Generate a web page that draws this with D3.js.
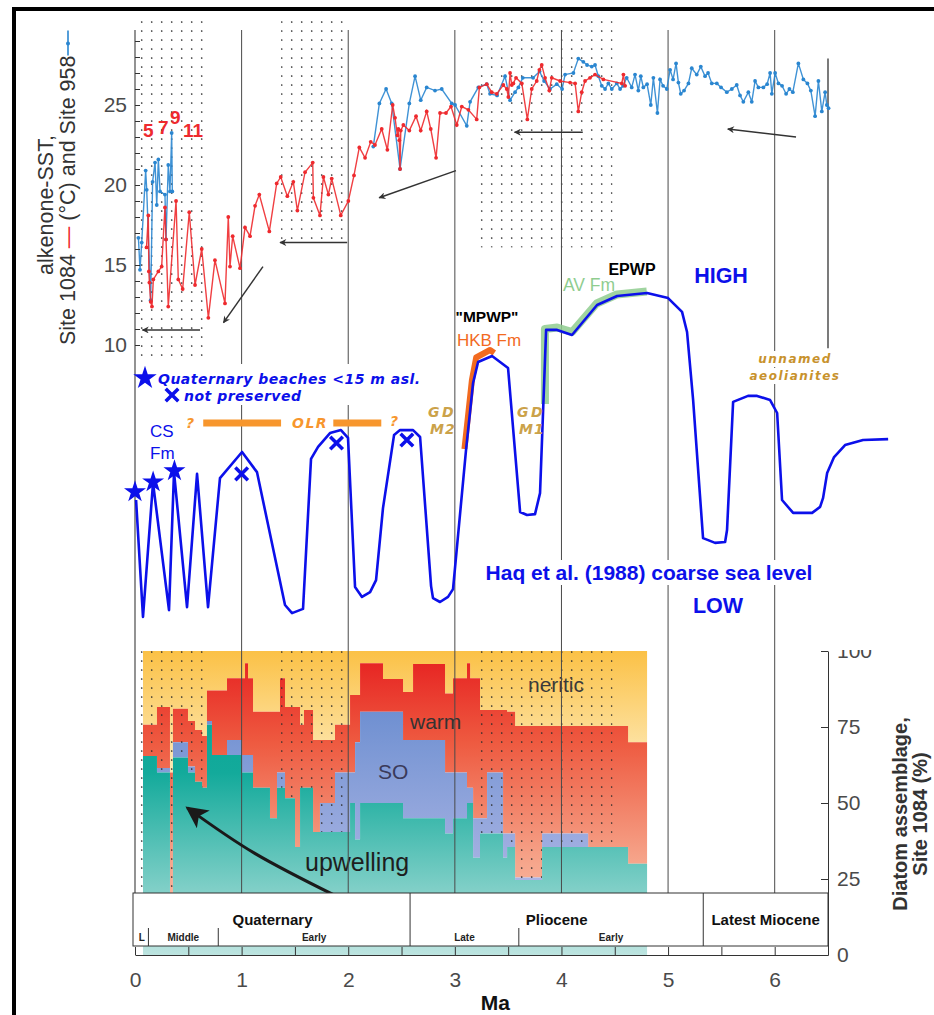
<!DOCTYPE html>
<html><head><meta charset="utf-8">
<script src="https://cdn.jsdelivr.net/npm/d3@7"></script>
<style>body{margin:0;background:#fff}</style>
</head><body>
<svg id="c" width="934" height="1015"></svg>
<script>
// ---------------- DATA ----------------
const site1084 = [[0.108,16.1],[0.125,18.1],[0.130,14.6],[0.135,13.9],[0.147,12.7],[0.159,12.4],[0.172,14.1],[0.219,14.6],[0.250,14.9],[0.281,18.6],[0.291,16.6],[0.312,12.4],[0.385,19.0],[0.406,14.1],[0.447,13.5],[0.509,18.3],[0.563,13.75],[0.626,16.0],[0.688,11.7],[0.750,15.3],[0.844,12.6],[0.875,18.0],[0.891,14.9],[0.916,16.8],[0.985,14.8],[1.032,17.35],[1.079,16.8],[1.126,18.7],[1.166,19.4],[1.260,17.1],[1.329,20.1],[1.367,20.5],[1.429,19.3],[1.485,20.2],[1.523,18.4],[1.595,20.8],[1.667,21.4],[1.673,19.2],[1.735,18.1],[1.767,20.5],[1.814,19.4],[1.845,20.4],[1.930,18.1],[2.001,19.0],[2.054,20.6],[2.104,22.35],[2.158,21.7],[2.211,22.7],[2.251,22.5],[2.314,23.5],[2.367,22.2],[2.417,25.0],[2.439,24.2],[2.461,23.1],[2.470,23.5],[2.479,22.8],[2.486,21.0],[2.493,23.4],[2.517,23.75],[2.573,23.4],[2.636,24.3],[2.680,23.4],[2.736,24.6],[2.774,23.5],[2.824,21.7],[2.861,24.5],[2.917,24.5],[2.964,24.9],[3.018,23.75],[3.065,24.9],[3.127,24.7],[3.205,24.1],[3.230,26.1],[3.299,26.3],[3.346,25.8],[3.393,25.7],[3.455,26.25],[3.487,26.0],[3.502,25.5],[3.518,27.0],[3.534,26.25],[3.549,26.35],[3.574,26.7],[3.628,26.35],[3.680,24.1],[3.721,26.0],[3.768,26.5],[3.793,27.2],[3.815,27.5],[3.846,26.7],[3.886,25.9],[3.909,26.7],[3.987,26.5],[4.081,26.4],[4.128,26.35],[4.158,24.6],[4.190,25.8],[4.221,26.5],[4.268,26.7],[4.315,26.9],[4.393,26.6],[4.566,26.35],[4.581,26.9],[4.597,26.2]];
const site958Early = [[0.032,16.7],[0.047,14.7],[0.063,16.4],[0.100,20.9],[0.110,19.7],[0.147,12.8],[0.165,20.2],[0.188,21.4],[0.204,18.75],[0.219,21.6],[0.235,19.6],[0.281,19.4],[0.291,16.6],[0.312,21.25],[0.328,19.6],[0.344,23.25],[0.350,19.6]];
const site958 = [[2.235,22.4],[2.292,25.1],[2.355,26.0],[2.408,25.1],[2.486,21.0],[2.573,25.1],[2.627,26.8],[2.680,25.3],[2.736,26.1],[2.814,25.9],[2.877,26.0],[2.971,25.1],[3.002,25.0],[3.112,23.7],[3.143,25.2],[3.220,26.1],[3.299,26.3],[3.330,25.7],[3.396,25.6],[3.471,26.8],[3.518,25.3],[3.565,25.8],[3.596,26.1],[3.637,26.7],[3.734,26.7],[3.795,27.1],[3.837,26.5],[3.893,26.0],[3.956,26.3],[4.006,26.0],[4.034,26.9],[4.112,27.0],[4.158,27.9],[4.205,27.7],[4.240,27.5],[4.284,27.4],[4.315,27.5],[4.346,26.8],[4.378,26.2],[4.409,26.0],[4.440,26.35],[4.472,26.0],[4.519,26.35],[4.550,26.0],[4.578,26.2],[4.612,26.7],[4.659,26.1],[4.690,26.9],[4.721,25.9],[4.744,26.8],[4.768,26.1],[4.803,26.3],[4.838,25.0],[4.862,26.7],[4.900,24.5],[4.925,26.6],[4.953,26.2],[4.988,26.0],[5.019,27.2],[5.047,26.6],[5.075,27.6],[5.097,26.4],[5.119,25.7],[5.150,25.9],[5.191,26.35],[5.222,27.3],[5.269,26.9],[5.307,27.4],[5.347,26.8],[5.375,27.0],[5.410,26.35],[5.457,26.35],[5.497,26.1],[5.551,25.8],[5.598,26.0],[5.644,26.25],[5.675,25.6],[5.706,25.2],[5.753,25.8],[5.785,25.2],[5.816,26.5],[5.847,26.1],[5.894,26.1],[5.929,26.3],[5.957,27.0],[5.973,25.7],[6.004,27.0],[6.035,26.35],[6.069,26.2],[6.107,25.7],[6.138,26.0],[6.170,25.8],[6.222,27.6],[6.269,26.6],[6.307,26.35],[6.339,25.9],[6.379,24.3],[6.410,26.5],[6.442,24.6],[6.473,25.8],[6.489,25.0],[6.505,24.8]];

// Haq et al. (1988) coarse sea level, relative units (0 = LOW, 110 = HIGH)
const seaLevelCurve = [[0.01,40],[0.075,1],[0.169,45.7],[0.319,3.3],[0.366,49.3],[0.488,4.3],[0.582,48.7],[0.685,4.3],[0.797,47.3],[1.004,56],[1.144,49.3],[1.407,5],[1.473,2.3],[1.576,3.7],[1.651,53.7],[1.717,57.7],[1.829,62.3],[1.932,63.3],[1.998,60.7],[2.064,11],[2.129,7.7],[2.205,9.3],[2.261,13.3],[2.326,37.3],[2.430,61.7],[2.486,63.3],[2.608,63.3],[2.674,61],[2.777,11.3],[2.795,7.3],[2.861,6],[2.936,7.7],[2.983,10.3],[3.105,56.7],[3.171,79],[3.218,86],[3.349,88],[3.499,84],[3.612,36],[3.677,35],[3.752,35.3],[3.799,42.3],[3.856,96.7],[3.959,96.7],[4.099,95],[4.334,105],[4.522,108],[4.803,109],[5.0,107.3],[5.131,102.7],[5.178,96],[5.235,73.3],[5.328,27.3],[5.441,25.7],[5.535,26],[5.553,30],[5.61,72.7],[5.75,74.7],[5.835,74.7],[5.957,73.3],[6.023,69],[6.069,40],[6.173,35.7],[6.351,35.7],[6.426,37.7],[6.454,40.7],[6.492,49],[6.557,54.3],[6.66,58.3],[6.829,60],[7.064,60.3]];
const hkbFm = [[3.09,57],[3.16,80],[3.20,87.5],[3.33,90],[3.37,89]];
const avFm = [[3.845,72],[3.845,97],[3.96,97.5],[4.10,96],[4.33,105.5],[4.52,108.5],[4.80,109.5]];
const beachAge = [0.0, 0.17, 0.37];
const beachLevel = [42.7, 46, 49.7];
const lostAge = [1.0, 1.89, 2.55];
const lostLevel = [48.7, 59, 60];
const olrBars = [[0.64,1.37],[1.86,2.31]];
const olrLevel = 65.7;

// Diatom assemblage Site 1084 (%), step intervals starting at diatomAge
const diatomAge = [0.075,0.206,0.328,0.356,0.497,0.563,0.629,0.675,0.722,0.863,1.004,1.032,1.060,1.107,1.266,1.332,1.360,1.407,1.501,1.548,1.585,1.670,1.735,1.876,2.017,2.064,2.111,2.326,2.514,2.608,2.908,2.983,3.114,3.143,3.171,3.236,3.302,3.452,3.490,3.565,3.818,4.250,4.625];
const upwelling = [65.5,60,12,65,60,57,55,75.7,65.8,65.8,60,60,60,55,45,55,55,51.6,35.5,55,55,40.5,40.5,40.5,50,38,50,50,45,45,40,45,50,50,32,40,40,32,35.5,24.7,35.5,35.5,30];
const southernOcean = [0,1.5,0,5,2,0,0,1.3,0,4.9,5.8,5.8,5.8,0,0,5,5,0,0,0,0,0,9.5,19.5,10,32,30,30,25.7,25.7,20,15,5,5,13,5,20,8,4.5,0.8,4.5,0,0];
const warm = [10.2,20.1,48,11,15,17,17,10,21.2,20.3,25.2,30.2,25.2,25,35,20,31,30,46.1,20.7,25.6,30.2,20.7,15.7,25.5,15.5,16,10.8,15.8,25,26,31,41,36,46,35.6,20.6,40.6,40,49.8,35.3,39.8,40];
const neritic = [24.3,18.4,40,19,23,26,28,13,13,9,9,4,9,20,20,20,9,18.4,18.4,24.3,19.4,29.3,29.3,24.3,14.5,14.5,4,9.2,13.5,4.3,14,9,4,9,9,19.4,19.4,19.4,20,24.7,24.7,24.7,30];
const diatomEnd = 4.803;

const stippleRanges = [[0.02,0.64],[1.37,1.99],[3.19,4.48]];
const stippleSSTLow = [9.3,16.2,16.1];
const sstArrows = [[[0.61,10.94],[0.07,10.94]],[[1.20,14.9],[0.83,11.4]],[[1.99,16.4],[1.36,16.4]],[[3.01,20.9],[2.29,19.2]],[[4.20,23.3],[3.56,23.3]],[[6.20,23.0],[5.56,23.5]]];
const upwellingArrow = [[1.88,19.5],[1.12,33.5],[0.49,48.4]];

const sstTicks = [10,15,20,25];
const sstMinor = d3.range(10,30);
const maTicks = d3.range(0,6.51,0.5);
const diatomTicks = [0,25,50,75,100];
const gridAges = [0,1,2,3,4,5,6];
const epochs = [["Quaternary",0,2.58],["Pliocene",2.58,5.33],["Latest Miocene",5.33,6.5]];
const subEpochs = [["L",0,0.126],["Middle",0.126,0.781],["Early",0.781,2.58],["Late",2.58,3.6],["Early",3.6,5.33]];

// ---------------- SETUP ----------------
const FONT = "Liberation Sans, Arial, Helvetica, sans-serif";
const WIDE = "DejaVu Sans, Verdana, sans-serif";
const BLUE = "#0c10ea";
const svg = d3.select("#c");
const defs = svg.append("defs");

const x = d3.scaleLinear().domain([0,6.5]).range([135,828]);
const ySST = d3.scaleLinear().domain([10,25]).range([345,105]);
const ySL = d3.scaleLinear().domain([0,110]).range([620,290]);
const yD = d3.scaleLinear().domain([0,100]).range([955,651]);
const GRID_TOP = 30, BOX_TOP = 893, BOX_BOT = 946;

function txt(px, py, s, o = {}) {
  const t = svg.append("text").attr("x", px).attr("y", py).text(s)
    .attr("font-family", o.family || FONT).attr("font-size", o.size || 16)
    .attr("font-weight", o.weight || "normal").attr("fill", o.fill || "#000");
  if (o.style) t.attr("font-style", o.style);
  if (o.anchor) t.attr("text-anchor", o.anchor);
  if (o.ls != null) t.attr("letter-spacing", o.ls);
  return t;
}
function whiteBehind(t, padx = 3, pady = 2) {
  const b = t.node().getBBox();
  svg.insert("rect", () => t.node()).attr("x", b.x - padx).attr("y", b.y - pady)
    .attr("width", b.width + 2 * padx).attr("height", b.height + 2 * pady).attr("fill", "#fff");
}

// patterns / gradients
const pat = defs.append("pattern").attr("id", "dots").attr("patternUnits", "userSpaceOnUse")
  .attr("width", 10).attr("height", 9);
pat.append("circle").attr("cx", 1.7).attr("cy", 4).attr("r", 0.85).attr("fill", "#2a2a2a");

function grad(id, stops) {
  const g = defs.append("linearGradient").attr("id", id).attr("gradientUnits", "userSpaceOnUse")
    .attr("x1", 0).attr("x2", 0).attr("y1", yD(100)).attr("y2", yD(0));
  stops.forEach(s => g.append("stop").attr("offset", s[0]).attr("stop-color", s[1]));
}
grad("gNer", [[0, "#fbc146"], [0.35, "#fde6ad"], [1, "#fff6dc"]]);
grad("gWarm", [[0, "#e61e1f"], [0.3, "#ee5a40"], [0.7, "#f6a68c"], [1, "#fbcab8"]]);
grad("gSO", [[0, "#5a82cb"], [0.35, "#7f9ad6"], [1, "#c4c4ec"]]);
grad("gUp", [[0, "#00a493"], [0.4, "#13aa9b"], [1, "#bde4e0"]]);

const mk = defs.append("marker").attr("id", "ah").attr("viewBox", "0 0 10 10").attr("refX", 9).attr("refY", 5)
  .attr("markerWidth", 10).attr("markerHeight", 7).attr("markerUnits", "userSpaceOnUse").attr("orient", "auto");
mk.append("path").attr("d", "M0,0 L10,5 L0,10 L3,5 Z").attr("fill", "#333");
const mk2 = defs.append("marker").attr("id", "ahBig").attr("viewBox", "0 0 10 10").attr("refX", 9).attr("refY", 5)
  .attr("markerWidth", 26).attr("markerHeight", 22).attr("markerUnits", "userSpaceOnUse").attr("orient", "auto");
mk2.append("path").attr("d", "M0,0 L10,5 L0,10 L2.5,5 Z").attr("fill", "#1a1a1a");

// ---------------- FRAME ----------------
svg.append("rect").attr("x", 12).attr("y", 7).attr("width", 922).attr("height", 4).attr("fill", "#000");
svg.append("rect").attr("x", 12).attr("y", 7).attr("width", 4).attr("height", 1008).attr("fill", "#000");

// ---------------- SST stipple ----------------
stippleRanges.forEach((r, i) => {
  svg.append("rect").attr("x", x(r[0])).attr("width", x(r[1]) - x(r[0]))
    .attr("y", 20).attr("height", ySST(stippleSSTLow[i]) - 20).attr("fill", "url(#dots)");
});

// ---------------- DIATOM PANEL ----------------
const rows = diatomAge.map((a, i) => ({ age: a, upwelling: upwelling[i], southernOcean: southernOcean[i], warm: warm[i], neritic: neritic[i] }));
rows.push(Object.assign({}, rows[rows.length - 1], { age: diatomEnd }));
const keys = ["upwelling", "southernOcean", "warm", "neritic"];
const stacked = d3.stack().keys(keys)(rows);
const area = d3.area().curve(d3.curveStepAfter).x(d => x(d.data.age)).y0(d => yD(d[0])).y1(d => yD(d[1]));
const fills = { upwelling: "url(#gUp)", southernOcean: "url(#gSO)", warm: "url(#gWarm)", neritic: "url(#gNer)" };
[3, 2, 1].forEach(k => svg.append("path").attr("d", area(stacked[k])).attr("fill", fills[keys[k]]));
stippleRanges.forEach(r => {
  svg.append("rect").attr("x", x(r[0])).attr("width", x(r[1]) - x(r[0]))
    .attr("y", yD(100)).attr("height", yD(20) - yD(100)).attr("fill", "url(#dots)");
});
svg.append("path").attr("d", area(stacked[0])).attr("fill", fills.upwelling);

// labels in diatom panel
txt(528, 692, "neritic", { size: 21, fill: "#3a3a3a" });
txt(410, 729, "warm", { size: 21, fill: "#333" });
txt(378, 779, "SO", { size: 21, fill: "#3a3a5a" });
txt(305, 871, "upwelling", { size: 25, fill: "#1e1e1e" });

// ---------------- GRID LINES ----------------
gridAges.forEach(a => {
  svg.append("line").attr("x1", x(a)).attr("x2", x(a)).attr("y1", GRID_TOP).attr("y2", BOX_TOP)
    .attr("stroke", "#4a4a4a").attr("stroke-width", a === 0 ? 1.2 : 1);
});
svg.append("line").attr("x1", x(6.5)).attr("x2", x(6.5)).attr("y1", ySST(27.9)).attr("y2", ySST(9.8))
  .attr("stroke", "#333").attr("stroke-width", 1.3);

// upwelling arrow
svg.append("path").attr("d", d3.line().curve(d3.curveNatural).x(d => x(d[0])).y(d => yD(d[1]))(upwellingArrow))
  .attr("fill", "none").attr("stroke", "#1a1a1a").attr("stroke-width", 3).attr("marker-end", "url(#ahBig)");

// ---------------- SST ----------------
const sstLine = d3.line().x(d => x(d[0])).y(d => ySST(d[1]));
function series(data, color) {
  svg.append("path").attr("d", sstLine(data)).attr("fill", "none").attr("stroke", color).attr("stroke-width", 1.4).attr("opacity", 0.9);
  svg.append("g").selectAll("circle").data(data).join("circle")
    .attr("cx", d => x(d[0])).attr("cy", d => ySST(d[1])).attr("r", 1.9).attr("fill", color);
}
series(site958Early, "#2a86d0");
series(site958, "#2a86d0");
series(site1084, "#ee2a2e");

// SST axis ticks (inward) and labels
svg.append("g").attr("transform", `translate(${x(0)},0)`)
  .call(d3.axisRight(ySST).tickValues(sstMinor).tickSize(5).tickFormat(""))
  .call(g => g.select(".domain").remove())
  .call(g => g.selectAll("line").attr("stroke", "#333"));
svg.append("g").attr("transform", `translate(${x(0)},0)`)
  .call(d3.axisLeft(ySST).tickValues(sstTicks).tickSize(0).tickPadding(8))
  .call(g => g.select(".domain").remove())
  .call(g => g.selectAll("text").attr("font-family", FONT).attr("font-size", 21).attr("fill", "#4a4a4a"));

// SST y title
{
  svg.append("text").attr("transform", "translate(53,205) rotate(-90)").attr("text-anchor", "middle")
    .attr("font-family", FONT).attr("font-size", 21.5).attr("fill", "#333").text("alkenone-SST,");
  const g2 = svg.append("g").attr("transform", "translate(75,345) rotate(-90)");
  const t2 = g2.append("text").attr("font-family", FONT).attr("font-size", 21.5).attr("fill", "#333");
  t2.append("tspan").text("Site 1084 ");
  t2.append("tspan").attr("fill", "#ee2a2e").text("—");
  t2.append("tspan").text(" (°C) and Site 958 ");
  const L = t2.node().getComputedTextLength();
  g2.append("line").attr("x1", L).attr("x2", L + 25).attr("y1", -7).attr("y2", -7).attr("stroke", "#2a86d0").attr("stroke-width", 1.6);
  g2.append("circle").attr("cx", L + 12).attr("cy", -7).attr("r", 2).attr("fill", "#2a86d0");
}

// MIS labels
txt(143, 137, "5", { size: 19, weight: "bold", fill: "#ee2a2e" });
txt(158, 134, "7", { size: 19, weight: "bold", fill: "#ee2a2e" });
txt(170, 124, "9", { size: 19, weight: "bold", fill: "#ee2a2e" });
txt(183, 137, "11", { size: 19, weight: "bold", fill: "#ee2a2e" });

// SST arrows
sstArrows.forEach(a => {
  svg.append("line").attr("x1", x(a[0][0])).attr("y1", ySST(a[0][1])).attr("x2", x(a[1][0])).attr("y2", ySST(a[1][1]))
    .attr("stroke", "#333").attr("stroke-width", 1.5).attr("marker-end", "url(#ah)");
});

// ---------------- SEA LEVEL ----------------
svg.append("rect").attr("x", 138).attr("y", 364).attr("width", 285).attr("height", 41).attr("fill", "#fff");

const slLine = d3.line().x(d => x(d[0])).y(d => ySL(d[1]));
svg.append("path").attr("d", slLine(avFm)).attr("fill", "none").attr("stroke", "#8fcd8f").attr("stroke-width", 8)
  .attr("stroke-linejoin", "round").attr("opacity", 0.85);
svg.append("path").attr("d", slLine(hkbFm)).attr("fill", "none").attr("stroke", "#f26a1f").attr("stroke-width", 6)
  .attr("stroke-linejoin", "round");
svg.append("path").attr("d", slLine(seaLevelCurve)).attr("fill", "none").attr("stroke", BLUE).attr("stroke-width", 2.6)
  .attr("stroke-linejoin", "round");

olrBars.forEach(b => {
  svg.append("line").attr("x1", x(b[0])).attr("x2", x(b[1])).attr("y1", ySL(olrLevel)).attr("y2", ySL(olrLevel))
    .attr("stroke", "#f7962d").attr("stroke-width", 7);
});
txt(186, 428, "?", { family: WIDE, size: 14, weight: "bold", style: "italic", fill: "#f7962d" });
txt(292, 428, "OLR", { family: WIDE, size: 14, weight: "bold", style: "italic", fill: "#f7962d", ls: 1.5 });
txt(390, 426, "?", { family: WIDE, size: 14, weight: "bold", style: "italic", fill: "#f7962d" });

const star = d3.symbol().type(d3.symbolStar);
beachAge.forEach((a, i) => {
  svg.append("path").attr("d", star.size(150)()).attr("transform", `translate(${x(a)},${ySL(beachLevel[i])})`).attr("fill", BLUE);
});
const cross = d3.symbol().type(d3.symbolTimes).size(105);
lostAge.forEach((a, i) => {
  svg.append("path").attr("d", cross()).attr("transform", `translate(${x(a)},${ySL(lostLevel[i])})`)
    .attr("fill", "none").attr("stroke", BLUE).attr("stroke-width", 3.5);
});
svg.append("path").attr("d", star.size(170)()).attr("transform", "translate(145,378)").attr("fill", BLUE);
svg.append("path").attr("d", cross()).attr("transform", "translate(172,395)").attr("fill", "none").attr("stroke", BLUE).attr("stroke-width", 3.5);
txt(158, 384, "Quaternary beaches <15 m asl.", { family: WIDE, size: 14, weight: "bold", style: "italic", fill: BLUE, ls: 0.5 });
txt(184, 401, "not preserved", { family: WIDE, size: 14, weight: "bold", style: "italic", fill: BLUE, ls: 0.5 });

txt(150, 437, "CS", { size: 17, fill: BLUE });
txt(150, 459, "Fm", { size: 17, fill: BLUE });

const GOLD = "#cba24a";
txt(428, 417, "GD", { family: WIDE, size: 14, weight: "bold", style: "italic", fill: GOLD, ls: 2.5 });
txt(430, 434, "M2", { family: WIDE, size: 14, weight: "bold", style: "italic", fill: GOLD, ls: 1 });
txt(517, 417, "GD", { family: WIDE, size: 14, weight: "bold", style: "italic", fill: GOLD, ls: 2.5 });
txt(519, 434, "M1", { family: WIDE, size: 14, weight: "bold", style: "italic", fill: GOLD, ls: 1 });

whiteBehind(txt(795, 363, "unnamed", { family: WIDE, size: 12, weight: "bold", style: "italic", fill: "#c8922c", ls: 1.5, anchor: "middle" }), 2, 1);
whiteBehind(txt(795, 380, "aeolianites", { family: WIDE, size: 12, weight: "bold", style: "italic", fill: "#c8922c", ls: 1.5, anchor: "middle" }), 2, 1);

txt(487, 322, "\"MPWP\"", { size: 15.5, weight: "bold", anchor: "middle" });
txt(489, 346, "HKB Fm", { size: 17, fill: "#f26a1f", anchor: "middle" });
txt(589, 291, "AV Fm", { size: 17.5, fill: "#8fcd8f", anchor: "middle" });
txt(632, 275, "EPWP", { size: 16, weight: "bold", anchor: "middle" });
txt(721, 283, "HIGH", { size: 21.5, weight: "bold", fill: BLUE, anchor: "middle" });
whiteBehind(txt(649, 580, "Haq et al. (1988) coarse sea level", { size: 21, weight: "bold", fill: BLUE, anchor: "middle" }), 3, 1);
whiteBehind(txt(718, 613, "LOW", { size: 21.5, weight: "bold", fill: BLUE, anchor: "middle" }), 3, 1);

// ---------------- TIME SCALE BOX ----------------
const box = svg.append("g");
box.append("rect").attr("x", x(0) - 2).attr("y", BOX_TOP).attr("width", x(6.5) - x(0) + 2).attr("height", BOX_BOT - BOX_TOP)
  .attr("fill", "#fff").attr("stroke", "#333").attr("stroke-width", 1);
epochs.forEach(e => {
  if (e[1] > 0) box.append("line").attr("x1", x(e[1])).attr("x2", x(e[1])).attr("y1", BOX_TOP).attr("y2", BOX_BOT).attr("stroke", "#333");
  box.append("text").attr("x", x((e[1] + e[2]) / 2)).attr("y", 925).attr("text-anchor", "middle")
    .attr("font-family", FONT).attr("font-size", 15).attr("font-weight", "bold").attr("fill", "#111").text(e[0]);
});
subEpochs.forEach(e => {
  if (e[1] > 0 && e[1] !== 2.58) box.append("line").attr("x1", x(e[1])).attr("x2", x(e[1])).attr("y1", 928).attr("y2", BOX_BOT).attr("stroke", "#333");
  box.append("text").attr("x", x((e[1] + e[2]) / 2)).attr("y", 941).attr("text-anchor", "middle")
    .attr("font-family", FONT).attr("font-size", 10).attr("font-weight", "bold").attr("fill", "#222").text(e[0]);
});

// ---------------- AXES ----------------
svg.append("g").attr("transform", `translate(0,${yD(0)})`)
  .call(d3.axisBottom(x).tickValues(maTicks).tickSizeInner(-8).tickSizeOuter(0).tickPadding(17)
    .tickFormat(d => Number.isInteger(d) ? d : ""))
  .call(g => g.select(".domain").attr("stroke", "#333"))
  .call(g => g.selectAll("line").attr("stroke", "#333"))
  .call(g => g.selectAll("text").attr("font-family", FONT).attr("font-size", 21).attr("fill", "#4a4a4a"));
txt(x(3.38), 1010, "Ma", { size: 21, weight: "bold", anchor: "middle", fill: "#111" });

// clip in the group's own (translated) coordinates so the "100" label is cut at the panel top
defs.append("clipPath").attr("id", "rclip").append("rect").attr("x", -2).attr("y", yD(100) - 1).attr("width", 100).attr("height", 340);
svg.append("g").attr("transform", `translate(${x(6.5)},0)`)
  .call(d3.axisLeft(yD).tickValues(diatomTicks).tickSize(7).tickSizeOuter(0).tickFormat(""))
  .call(g => g.select(".domain").attr("stroke", "#333"))
  .call(g => g.selectAll("line").attr("stroke", "#333"));
svg.append("g").attr("transform", `translate(${x(6.5)},0)`).attr("clip-path", "url(#rclip)")
  .call(d3.axisRight(yD).tickValues(diatomTicks).tickSize(0).tickPadding(9))
  .call(g => g.select(".domain").remove())
  .call(g => g.selectAll("text").attr("font-family", FONT).attr("font-size", 21).attr("fill", "#4a4a4a"));

svg.append("text").attr("transform", "translate(907,814) rotate(-90)").attr("text-anchor", "middle")
  .attr("font-family", FONT).attr("font-size", 20).attr("font-weight", "bold").attr("fill", "#333").text("Diatom assemblage,");
svg.append("text").attr("transform", "translate(927,814) rotate(-90)").attr("text-anchor", "middle")
  .attr("font-family", FONT).attr("font-size", 20).attr("font-weight", "bold").attr("fill", "#333").text("Site 1084 (%)");
</script>
</body></html>
